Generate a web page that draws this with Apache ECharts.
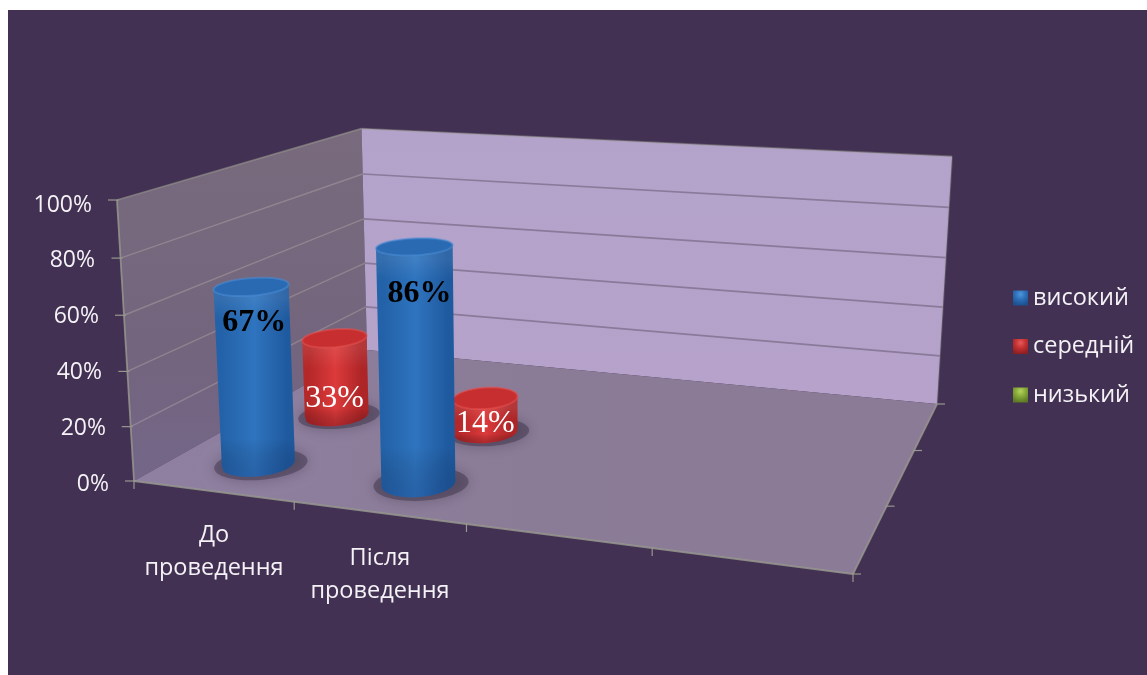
<!DOCTYPE html>
<html>
<head>
<meta charset="utf-8">
<style>html,body{margin:0;padding:0;background:#fff}#chart{width:1147px;height:675px}</style>
<script src="https://cdn.jsdelivr.net/npm/echarts@6/dist/echarts.min.js"></script>
</head>
<body>
<div id="chart"></div>
<script>
// Chart values
const categories = ['До\nпроведення', 'Після\nпроведення', '', ''];
const seriesNames = ['високий', 'середній', 'низький'];
const highValues = [67, 86, null, null];
const mediumValues = [33, 14, null, null];
const lowValues = [null, null, null, null];
const valueTicks = [0, 20, 40, 60, 80, 100];

// Box corners on screen: front-left floor, front-right floor, back-left floor, back-right floor, front-left top
const O = [134, 481], U = [853, 574], D = [367, 350], P = [937, 404], T = [117, 200];

// Perspective terms of the box, so (u, depth, t) maps onto the screen
const det = (U[0]-P[0])*(D[1]-P[1]) - (D[0]-P[0])*(U[1]-P[1]);
const r0 = P[0]+O[0]-U[0]-D[0], r1 = P[1]+O[1]-U[1]-D[1];
const wu = (r0*(D[1]-P[1]) - (D[0]-P[0])*r1) / det;
const wd = ((U[0]-P[0])*r1 - r0*(U[1]-P[1])) / det;
const wt = -0.041;
const axisU = [0, 1].map(i => U[i]*(1+wu) - O[i]);
const axisD = [0, 1].map(i => D[i]*(1+wd) - O[i]);
const axisT = [0, 1].map(i => T[i]*(1+wt) - O[i]);
function project(u, d, t) {
  const w = 1 + wu*u + wd*d + wt*t;
  return [0, 1].map(i => (O[i] + u*axisU[i] + d*axisD[i] + t*axisT[i]) / w);
}

const GRID = { left: 131, top: 205, width: 664, height: 279 };
const depthOf = [1/6, 1/2, 5/6];
const RADIUS_U = [0.0495, 0.047, 0.044], RADIUS_D = 0.078;
// Cylinders stop slightly short of the gridline height, more so further back in the box
const REACH = [0.98, 0.955, 0.95];
const LinearGradient = echarts.graphic.LinearGradient;

const palette = [
  { edgeL: '#2362a8', mid: '#2f74bf', edgeR: '#1f5a9f', top: '#2a6ab2', rim: 'rgba(74,140,214,.55)', foot: 'rgba(20,50,110,.25)', text: '#000', font: 'bold 32px "Liberation Serif"' },
  { edgeL: '#b52829', mid: '#dc3a3b', edgeR: '#ad2527', top: '#c62e2f', rim: 'rgba(232,84,84,.5)', foot: 'rgba(90,10,20,.35)', text: '#fff', font: '32px "Liberation Serif"' },
  { edgeL: '#5f7f26', mid: '#8fb63f', edgeR: '#587724', top: '#7ea135', rim: 'rgba(156,194,74,.5)', foot: 'rgba(40,60,10,.3)', text: '#fff', font: '32px "Liberation Serif"' }
];
// Offset of each value label from the top centre of its cylinder
const labelOffsets = [[[3, 36], [5, 47]], [[0, 61], [0, 26]], [[0, 0], [0, 0]]];

function ring(u, d, t, ru, rd) {
  const pts = [];
  for (let k = 0; k < 60; k++) {
    const a = k / 60 * Math.PI * 2;
    pts.push(project(u + Math.cos(a)*ru, d + Math.sin(a)*rd, t));
  }
  return pts;
}

// Outline made of the top's outer tangents and the near half of the base
function bodyOutline(base, top) {
  const ext = pts => {
    let l = pts[0], r = pts[0];
    pts.forEach(p => { if (p[0] < l[0]) l = p; if (p[0] > r[0]) r = p; });
    return [l, r];
  };
  const [bl, br] = ext(base), [tl, tr] = ext(top);
  const midY = (bl[1] + br[1]) / 2;
  const lower = base.filter(p => p[1] >= midY).sort((a, b) => a[0] - b[0]);
  return [tl, bl].concat(lower, [br, tr]);
}

function cylinderRenderer(row) {
  return function (params, api) {
    const value = api.value(1);
    if (value == null || isNaN(value)) return null;
    const grid = params.coordSys;
    const pt = api.coord([api.value(0), value]);
    const zero = api.coord([api.value(0), 0]);
    const u = (pt[0] - grid.x) / grid.width + 0.002;
    const t = (zero[1] - pt[1]) / grid.height * REACH[row];
    const d = depthOf[row];
    const c = palette[row];
    const ru = RADIUS_U[row];
    const base = ring(u, d, 0, ru, RADIUS_D), top = ring(u, d, t, ru, RADIUS_D), halo = ring(u + 0.004, d, 0, ru*1.3, RADIUS_D*1.22);
    const outline = bodyOutline(base, top);
    const centre = project(u, d, t);
    const h = Math.max(...base.map(p => p[1])) - Math.min(...top.map(p => p[1]));
    const band = Math.min(0.3, 14 / h);
    const off = labelOffsets[row][params.dataIndex];
    return {
      type: 'group',
      children: [
        { type: 'polygon', shape: { points: halo }, style: { fill: 'rgba(62,52,74,.5)', shadowBlur: 14, shadowColor: 'rgba(62,52,74,.8)' } },
        { type: 'polygon', shape: { points: outline }, style: { fill: new LinearGradient(0, 0, 1, 0, [
            { offset: 0, color: c.edgeL }, { offset: 0.1, color: c.edgeL }, { offset: 0.5, color: c.mid }, { offset: 0.9, color: c.edgeR }, { offset: 1, color: c.edgeR }]) } },
        { type: 'polygon', shape: { points: outline }, style: { fill: new LinearGradient(0, 0, 0, 1, [
            { offset: 0, color: 'rgba(255,255,255,.08)' }, { offset: band, color: 'rgba(255,255,255,.08)' }, { offset: Math.min(0.5, band*2.5), color: 'rgba(255,255,255,0)' },
            { offset: 0.8, color: 'rgba(0,0,0,0)' }, { offset: 1, color: c.foot }]) } },
        { type: 'polygon', shape: { points: top }, style: { fill: c.top, stroke: c.rim, lineWidth: 2 } },
        { type: 'text', z2: 10, style: { text: value + '%', x: centre[0] + off[0], y: centre[1] + off[1], fill: c.text, font: c.font, align: 'center', verticalAlign: 'middle' } }
      ]
    };
  };
}

// Walls, floor, gridlines and the tick marks of the box
function renderFrame(params, api) {
  const grid = params.coordSys;
  const zero = api.coord([0, 0])[1];
  const tOf = v => (zero - api.coord([0, v])[1]) / grid.height;
  const kids = [];
  kids.push({ type: 'polygon', shape: { points: [project(0,0,0), project(0,1,0), project(0,1,1), project(0,0,1)] },
    style: { fill: new LinearGradient(0, 0, 0, 1, [{ offset: 0, color: '#796b7d' }, { offset: 0.6, color: '#73657d' }, { offset: 1, color: '#746688' }]) } });
  kids.push({ type: 'polygon', shape: { points: [project(0,1,0), project(1,1,0), project(1,1,1), project(0,1,1)] },
    style: { fill: new LinearGradient(0, 0, 0, 1, [{ offset: 0, color: '#b3a3ca' }, { offset: 1, color: '#b6a2ca' }]) } });
  kids.push({ type: 'polygon', shape: { points: [project(0,0,0), project(1,0,0), project(1,1,0), project(0,1,0)] },
    style: { fill: new LinearGradient(0, 0, 1, 0, [{ offset: 0, color: '#8f80a2' }, { offset: 0.5, color: '#8a7b96' }, { offset: 1, color: '#8b7b97' }]) } });
  valueTicks.forEach(v => {
    const t = tOf(v);
    const a = project(0, 0, t), b = project(0, 1, t), c = project(1, 1, t);
    if (v > 0 && v < 100) {
      kids.push({ type: 'line', shape: { x1: a[0], y1: a[1], x2: b[0], y2: b[1] }, style: { stroke: 'rgba(176,166,166,.45)', lineWidth: 1.5 } });
      kids.push({ type: 'line', shape: { x1: b[0], y1: b[1], x2: c[0], y2: c[1] }, style: { stroke: '#8a7a99', lineWidth: 1.6 } });
    }
    kids.push({ type: 'line', shape: { x1: a[0] + 2, y1: a[1], x2: a[0] - 9, y2: a[1] }, style: { stroke: '#98988f', lineWidth: 1.2 } });
  });
  // Box edges; the far edges stay faint
  [[[0,0,1],[0,1,1], .6], [[0,1,1],[1,1,1], .45], [[1,1,1],[1,1,0], .3], [[0,0,0],[0,0,1], .85], [[0,0,0],[1,0,0], .85], [[1,0,0],[1,1,0], .85]].forEach(e => {
    const a = project(...e[0]), b = project(...e[1]);
    kids.push({ type: 'line', shape: { x1: a[0], y1: a[1], x2: b[0], y2: b[1] }, style: { stroke: 'rgba(150,150,142,' + e[2] + ')', lineWidth: 1.8 } });
  });
  // Category ticks under the front edge and depth ticks beside the right edge
  categories.concat(['']).forEach((_, i) => {
    const p = project(i / categories.length, 0, 0);
    kids.push({ type: 'line', shape: { x1: p[0], y1: p[1] - 1, x2: p[0], y2: p[1] + 8 }, style: { stroke: '#98988f', lineWidth: 1.2 } });
  });
  [0, 1/3, 2/3, 1].forEach(d => {
    const p = project(1, d, 0);
    kids.push({ type: 'line', shape: { x1: p[0] - 1, y1: p[1], x2: p[0] + 8, y2: p[1] }, style: { stroke: '#98988f', lineWidth: 1.2 } });
  });
  return { type: 'group', children: kids };
}

const legendFill = (light, mid, dark) => new echarts.graphic.RadialGradient(0.5, 0.25, 0.75, [
  { offset: 0, color: light }, { offset: 0.5, color: mid }, { offset: 1, color: dark }]);

// Each y label sits beside the slanted front edge, so it gets its own inset
const yInset = { 100: 39, 80: 36, 60: 32, 40: 29, 20: 25, 0: 22 };
const yRich = {};
valueTicks.forEach(v => { yRich['v' + v] = { padding: [0, yInset[v], 0, 0], fontFamily: 'Open Sans', fontSize: 23, color: '#f4f2f6' }; });

const textFont = { fontFamily: 'Open Sans', fontSize: 23.5, lineHeight: 33, color: '#f4f2f6' };
const chart = echarts.init(document.getElementById('chart'));
chart.setOption({
  animation: false,
  backgroundColor: '#ffffff',
  graphic: [{ type: 'rect', z: -10, silent: true, shape: { x: 8, y: 10, width: 1139, height: 665 }, style: { fill: '#423153' } }],
  grid: GRID,
  legend: {
    orient: 'vertical', left: 1008, top: 281, itemWidth: 15, itemHeight: 15, itemGap: 24.5, selectedMode: false,
    textStyle: { color: '#f4f2f6', fontFamily: 'Open Sans', fontSize: 23.5 },
    data: [
      { name: seriesNames[0], icon: 'rect', itemStyle: { color: legendFill('#4d97dc', '#2c6db6', '#1c5090') } },
      { name: seriesNames[1], icon: 'rect', itemStyle: { color: legendFill('#e65a5a', '#c22f30', '#8e2022') } },
      { name: seriesNames[2], icon: 'rect', itemStyle: { color: legendFill('#b4d45c', '#84a637', '#5d7a24') } }
    ]
  },
  xAxis: {
    type: 'category', data: categories,
    axisLine: { show: false }, axisTick: { show: false }, splitLine: { show: false },
    axisLabel: {
      interval: 0, margin: 35, align: 'center', ...textFont,
      // The second label hangs lower because the front edge of the box slopes down
      formatter: (value, index) => {
        const body = '{plain|' + value.split('\n').join('}\n{plain|') + '}';
        return index === 1 ? '{gap|\u00a0}\n' + body : body;
      },
      rich: { plain: textFont, gap: { fontSize: 1, lineHeight: 23 } }
    }
  },
  yAxis: {
    type: 'value', min: 0, max: 100, interval: 20,
    axisLine: { show: false }, axisTick: { show: false }, splitLine: { show: false },
    axisLabel: { margin: 0, formatter: v => '{v' + v + '|' + v + '%}', rich: yRich }
  },
  series: [
    { type: 'custom', name: 'frame', coordinateSystem: 'cartesian2d', silent: true, z: 1, data: [[0, 0]], encode: { x: 0, y: 1 }, renderItem: renderFrame },
    { type: 'custom', name: seriesNames[2], coordinateSystem: 'cartesian2d', silent: true, z: 2, data: lowValues.map((v, i) => [i, v]), encode: { x: 0, y: 1 }, renderItem: cylinderRenderer(2) },
    { type: 'custom', name: seriesNames[1], coordinateSystem: 'cartesian2d', silent: true, z: 3, data: mediumValues.map((v, i) => [i, v]), encode: { x: 0, y: 1 }, renderItem: cylinderRenderer(1) },
    { type: 'custom', name: seriesNames[0], coordinateSystem: 'cartesian2d', silent: true, z: 4, data: highValues.map((v, i) => [i, v]), encode: { x: 0, y: 1 }, renderItem: cylinderRenderer(0) }
  ]
});
</script>
</body>
</html>
